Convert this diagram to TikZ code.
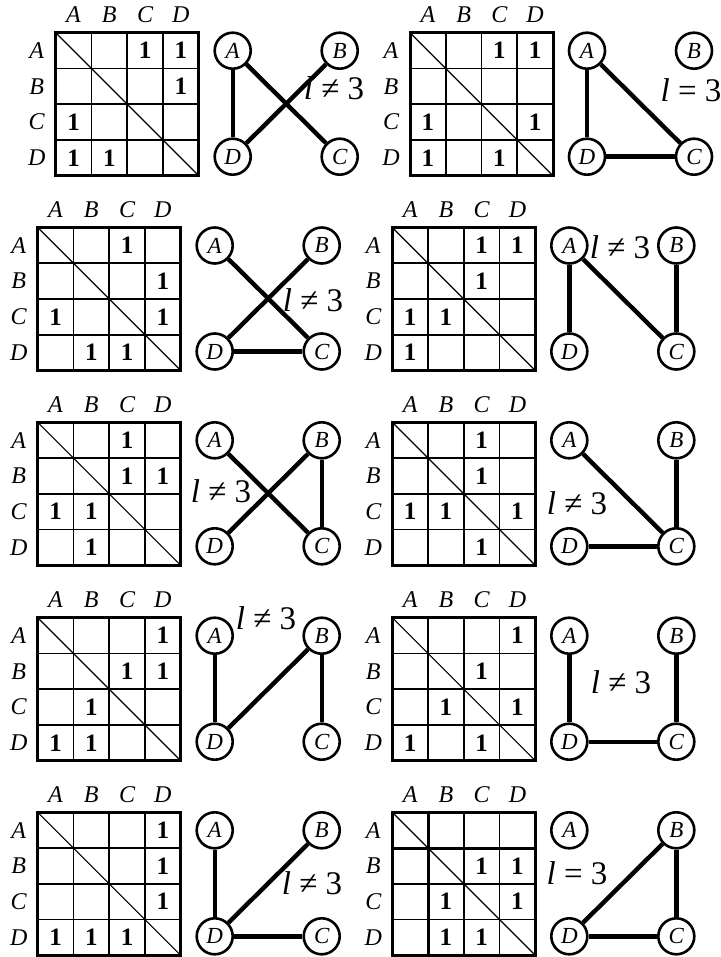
\documentclass[tikz,border=0pt]{standalone}
\usepackage{fontspec}
\setmainfont{Liberation Serif}
\begin{document}
\begin{tikzpicture}[x=1pt,y=-1pt,
    vert/.style={circle,draw,line width=2.6pt,minimum size=36pt,inner sep=0pt,font=\fontsize{23}{26}\selectfont\itshape},
    edge/.style={line width=4.4pt},
    lab/.style={font=\fontsize{24}{26}\selectfont\itshape},
    one/.style={font=\fontsize{25}{27}\selectfont\bfseries},
    cond/.style={font=\fontsize{33}{36}\selectfont}]
  \useasboundingbox (0,0) rectangle (720,957);
  % one panel per entry: matrix corner / ones (row/col) / edges / label spot / sign
  \foreach \mx/\my/\ones/\edges/\lx/\ly/\sign [count=\i] in {
      55.7/32.7/{1/3,1/4,2/4,3/1,4/1,4/2}/{A/D,A/C,B/D}/334/88/≠,
      410/32.7/{1/3,1/4,3/1,3/4,4/1,4/3}/{A/D,A/C,D/C}/691/90/=,
      37.7/227.5/{1/3,2/4,3/1,3/4,4/2,4/3}/{A/C,B/D,D/C}/313/300/≠,
      392.3/227.5/{1/3,1/4,2/3,3/1,3/2,4/1}/{A/D,A/C,B/C}/620/247/≠,
      37.7/422.3/{1/3,2/3,2/4,3/1,3/2,4/2}/{A/C,B/D,B/C}/221/491/≠,
      392.3/422.3/{1/3,2/3,3/1,3/2,3/4,4/3}/{A/C,B/C,D/C}/577/503/≠,
      37.7/617.7/{1/4,2/3,2/4,3/2,4/1,4/2}/{A/D,B/D,B/C}/266/618/≠,
      392.3/617.7/{1/4,2/3,3/2,3/4,4/1,4/3}/{A/D,B/C,D/C}/621/682/≠,
      37.7/812.3/{1/4,2/4,3/4,4/1,4/2,4/3}/{A/D,B/D,D/C}/312/883/≠,
      392.3/812.3/{2/3,2/4,3/2,3/4,4/2,4/3}/{B/D,B/C,D/C}/577/873/=}
  {
    \begin{scope}[shift={(\mx,\my)}]
      % the grid and its diagonal
      \foreach \k in {1,2,3} {
        \draw[line width=1.8pt] ({\k*35.75},0) -- ({\k*35.75},143);
        \draw[line width=1.8pt] (0,{\k*35.75}) -- (143,{\k*35.75});
      }
      \draw[line width=1.2pt] (0,0) -- (143,143);
      \draw[line width=3pt] (0,0) rectangle (143,143);
      % headings of rows and columns
      \foreach \n [count=\k] in {A,B,C,D} {
        \node[lab] (col\i\n) at ({(\k-.5)*35.75},-18) {\n};
        \node[lab] (row\i\n) at (-19,{(\k-.5)*35.75}) {\n};
      }
      \foreach \r/\c in \ones
        \node[one] (one\i-\r\c) at ({(\c-.5)*35.75},{(\r-.5)*35.75}) {1};
      % the graph
      \node[vert] (A\i) at (177,18) {A};
      \node[vert] (B\i) at (284,18) {B};
      \node[vert] (D\i) at (177,124) {D};
      \node[vert] (C\i) at (284,124) {C};
      \foreach \u/\v in \edges
        \draw[edge] (\u\i) -- (\v\i);
    \end{scope}
    \node[cond] (cond\i) at (\lx,\ly) {\textit{l} \sign{} 3};
  }
  % last matrix: row and column A set apart
  \draw[line width=3pt] (428.05,812.3) -- (428.05,955.3);
  \draw[line width=3pt] (392.3,848.05) -- (535.3,848.05);
\end{tikzpicture}
\end{document}
